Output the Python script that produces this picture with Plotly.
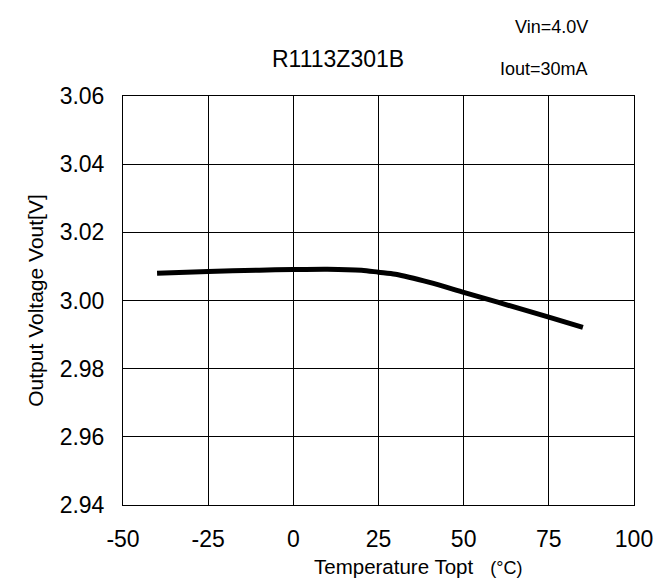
import plotly.graph_objects as go

temperature = [-40, -25, -10, 0, 10, 20, 25, 30, 40, 50, 60, 75, 85]
vout = [3.0080, 3.0085, 3.0089, 3.0091, 3.0092, 3.0089, 3.0083, 3.0077, 3.0053, 3.0024, 2.9995, 2.9951, 2.9921]

x_ticks = [-50, -25, 0, 25, 50, 75, 100]
y_ticks = [2.94, 2.96, 2.98, 3.00, 3.02, 3.04, 3.06]
y_tick_labels = ["2.94", "2.96", "2.98", "3.00", "3.02", "3.04", "3.06"]

FONT = "Liberation Sans, Arial, sans-serif"
NB = "\u00a0"

fig = go.Figure()
fig.add_trace(go.Scatter(
    x=temperature, y=vout, mode="lines",
    line=dict(color="black", width=5, shape="spline", smoothing=0.8),
    showlegend=False, hoverinfo="skip",
))

L, R, T, B = 115, 626, 88, 497
W, H = 666, 580

def px(xp):
    return (xp - L) / (R - L)

def py(yp):
    return (B - yp) / (B - T)

fig.update_layout(
    width=W, height=H,
    margin=dict(l=L, r=W - R, t=T, b=H - B),
    paper_bgcolor="white", plot_bgcolor="white",
    font=dict(family=FONT, color="black", size=20),
    showlegend=False,
    xaxis=dict(
        range=[-50, 100], tickmode="array", tickvals=x_ticks,
        ticktext=[str(v) for v in x_ticks],
        showgrid=True, gridcolor="black", gridwidth=1,
        showline=True, linecolor="black", linewidth=1, mirror=True,
        ticks="inside", ticklen=3, tickcolor="black",
        zeroline=False, tickfont=dict(size=23, family=FONT),
        ticklabelstandoff=13,
    ),
    yaxis=dict(
        range=[2.94, 3.06], tickmode="array", tickvals=y_ticks, ticktext=y_tick_labels,
        showgrid=True, gridcolor="black", gridwidth=1,
        showline=True, linecolor="black", linewidth=1, mirror=True,
        ticks="inside", ticklen=3, tickcolor="black",
        zeroline=False, tickfont=dict(size=23, family=FONT),
        ticklabelstandoff=13,
        title=dict(text="Output Voltage Vout[V]", font=dict(size=21, family=FONT), standoff=10),
    ),
    annotations=[
        dict(text="R1113Z301B", x=px(330), y=py(51), xref="paper", yref="paper",
             showarrow=False, font=dict(size=23, family=FONT), xanchor="center", yanchor="middle"),
        dict(text="Vin=4.0V", x=px(582), y=py(19), xref="paper", yref="paper",
             showarrow=False, font=dict(size=18, family=FONT), xanchor="right", yanchor="middle"),
        dict(text="Iout=30mA", x=px(582), y=py(61), xref="paper", yref="paper",
             showarrow=False, font=dict(size=18, family=FONT), xanchor="right", yanchor="middle"),
        dict(text="Temperature Topt" + NB * 3 + "<span style='font-size:18px'>(°C)</span>",
             x=px(410), y=py(558), xref="paper", yref="paper",
             showarrow=False, font=dict(size=20.5, family=FONT), xanchor="center", yanchor="middle"),
    ],
)

fig.write_html("out.html")
